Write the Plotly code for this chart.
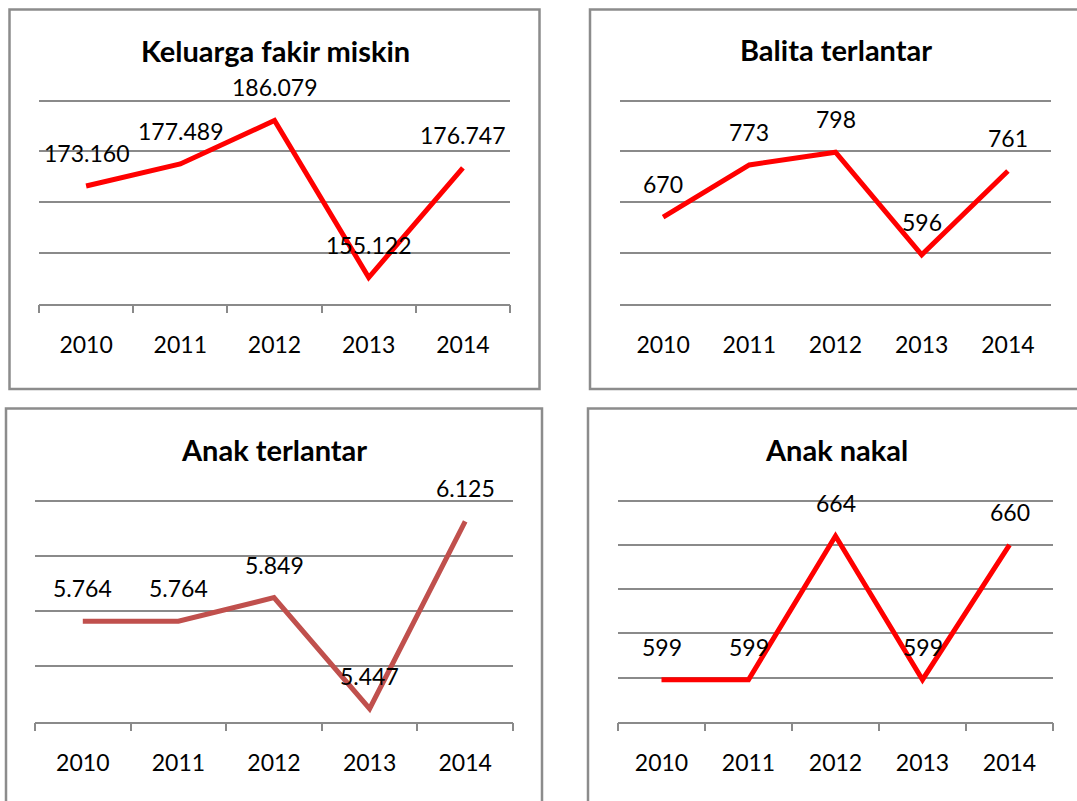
import plotly.graph_objects as go

years = ["2010", "2011", "2012", "2013", "2014"]

titles = ["Keluarga fakir miskin", "Balita terlantar", "Anak terlantar", "Anak nakal"]
keluarga_fakir_miskin = [173160, 177489, 186079, 155122, 176747]
balita_terlantar = [670, 773, 798, 596, 761]
anak_terlantar = [5764, 5764, 5849, 5447, 6125]
anak_nakal = [599, 599, 664, 599, 660]
series = [keluarga_fakir_miskin, balita_terlantar, anak_terlantar, anak_nakal]

y_ranges = [[150000, 190000], [500, 900], [5400, 6200], [580, 680]]
y_dticks = [10000, 100, 200, 20]
line_colors = ["#FF0000", "#FF0000", "#C0504D", "#FF0000"]
show_ticks = [True, False, True, True]

W, H = 1077, 801
FONT = "Lato"
GRID = "#8a8a8a"
PAD = 4  # extra px above the top gridline so it is drawn

# plot areas in pixels: (x0, x1, ytop, ybottom)
areas = [(39, 510, 100.5, 303.5), (620, 1051, 100.5, 303.5),
         (35, 513, 500.7, 721.7), (618, 1053, 500.7, 721.7)]
# panel borders in pixels: (x0, y0, x1, y1)
borders = [(9.5, 9.5, 539.5, 389), (590, 9.5, 1085, 389),
           (6, 408.5, 542, 810), (588, 408.5, 1085, 810)]
title_pos = [(275, 50), (836, 49), (274, 449), (836, 449)]


def fmt(v):
    return f"{v:,}".replace(",", ".")


fig = go.Figure()
layout = dict(
    width=W, height=H, margin=dict(l=0, r=0, t=0, b=0),
    paper_bgcolor="white", plot_bgcolor="white", showlegend=False,
    font=dict(family=FONT, color="black", size=23),
)
annotations = []
shapes = []

for i in range(4):
    n = "" if i == 0 else str(i + 1)
    xa, ya = "x" + n, "y" + n
    x0, x1, yt, yb = areas[i]
    lo, hi = y_ranges[i]
    ppu = (yb - yt) / (hi - lo)
    fig.add_trace(go.Scatter(
        x=years, y=series[i], mode="lines", xaxis=xa, yaxis=ya,
        line=dict(color=line_colors[i], width=5), hoverinfo="skip",
    ))
    layout["xaxis" + n] = dict(
        domain=[x0 / W, x1 / W], anchor=ya, type="category",
        range=[-0.5, 4.5], showgrid=False, zeroline=False,
        showline=True, linecolor=GRID, linewidth=1.5,
        ticks="outside", tickson="boundaries", ticklen=8, tickwidth=1.5,
        tickcolor=GRID if show_ticks[i] else "rgba(0,0,0,0)",
        ticklabelstandoff=20,
        tickfont=dict(family=FONT, size=23, color="black"),
        fixedrange=True,
    )
    layout["yaxis" + n] = dict(
        domain=[1 - yb / H, 1 - (yt - PAD) / H], anchor=xa,
        range=[lo, hi + PAD / ppu],
        dtick=y_dticks[i], tick0=lo, showgrid=True,
        gridcolor=GRID, gridwidth=1.5, zeroline=False, showticklabels=False,
        ticks="", showline=False, fixedrange=True,
    )
    for k, v in enumerate(series[i]):
        annotations.append(dict(
            x=k, y=v, xref=xa, yref=ya, text=fmt(v), showarrow=False,
            yshift=33, font=dict(family=FONT, size=23, color="black"),
        ))
    tx, ty = title_pos[i]
    annotations.append(dict(
        x=tx / W, y=1 - ty / H, xref="paper", yref="paper",
        text="<b>" + titles[i] + "</b>", showarrow=False,
        xanchor="center", yanchor="middle",
        font=dict(family=FONT, size=29, color="black"),
    ))
    bx0, by0, bx1, by1 = borders[i]
    shapes.append(dict(
        type="rect", xref="paper", yref="paper",
        x0=bx0 / W, x1=bx1 / W, y0=1 - by1 / H, y1=1 - by0 / H,
        line=dict(color="#8c8c8c", width=2.5), fillcolor="rgba(0,0,0,0)",
        layer="below",
    ))

layout["annotations"] = annotations
layout["shapes"] = shapes
fig.update_layout(**layout)
fig.write_html(
    "out.html",
    config={"displayModeBar": False},
    post_script="document.body.style.margin='0';document.body.style.overflow='hidden';",
)
